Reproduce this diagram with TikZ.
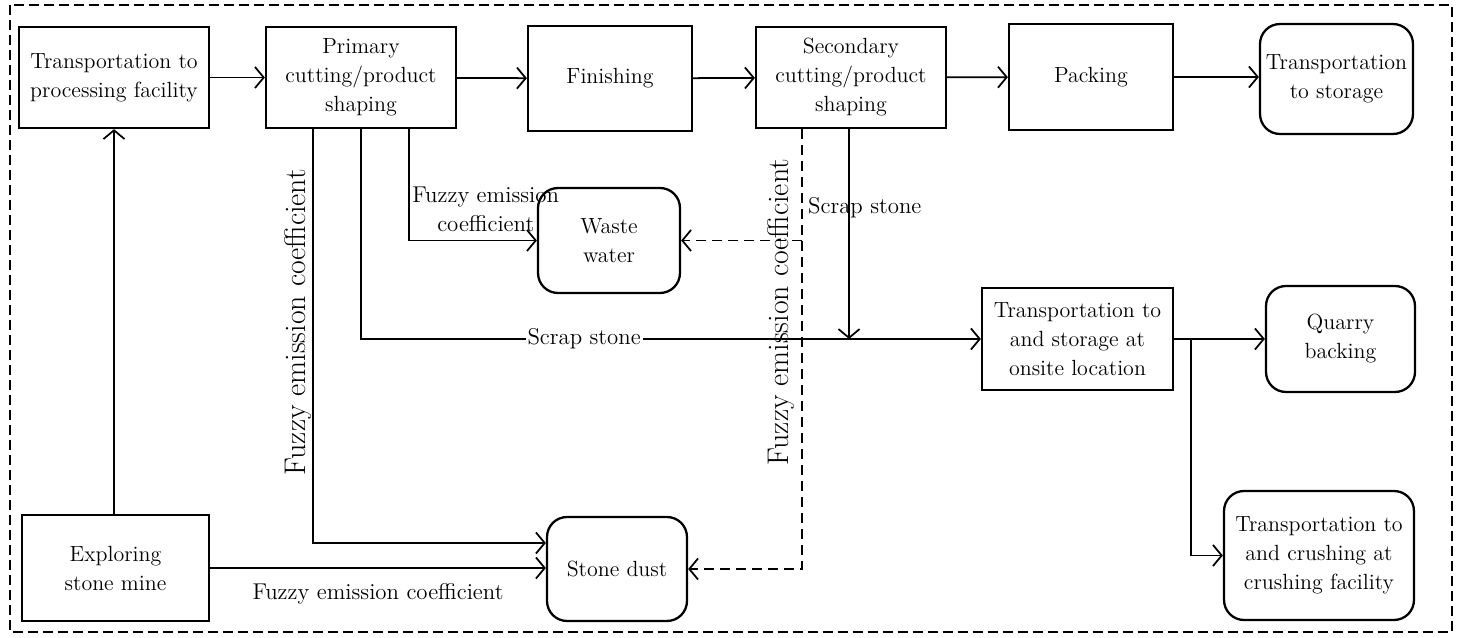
\documentclass[tikz,border=0pt]{standalone}
\usepackage{tikz}
\usetikzlibrary{arrows.meta,calc,positioning}
\begin{document}
\begin{tikzpicture}[x=0.02cm,y=-0.02cm,
  font=\fontsize{12.5}{16.5}\selectfont,
  procbox/.style={draw,line width=1.3pt,align=center,inner sep=2pt},
  outbox/.style={procbox,rounded corners=0.4cm},
  flow/.style={line width=1pt,-{Straight Barb[length=5pt,width=12pt,line width=1pt]}},
  dflow/.style={flow,dash pattern=on 0.2cm off 0.12cm},
  flowlabel/.style={font=\fontsize{13}{16.5}\selectfont},
  sidelabel/.style={rotate=90,font=\fontsize{17}{19}\selectfont}]
\useasboundingbox (0,0) rectangle (1461,638);
\draw[line width=1.6pt,dash pattern=on 0.2cm off 0.1cm] (10,5) rectangle (1452,632);
% top row
\node[procbox,minimum width=3.8cm,minimum height=2.02cm] (trproc) at (114,77.5) {Transportation to\\processing facility};
\node[procbox,minimum width=3.8cm,minimum height=2.02cm] (primary) at (361,77.5) {Primary\\cutting/product\\shaping};
\node[procbox,minimum width=3.28cm,minimum height=2.1cm] (finish) at (610,78.5) {Finishing};
\node[procbox,minimum width=3.8cm,minimum height=2.02cm] (second) at (851,77.5) {Secondary\\cutting/product\\shaping};
\node[procbox,minimum width=3.28cm,minimum height=2.12cm] (pack) at (1091,77) {Packing};
\node[outbox,minimum width=3.06cm,minimum height=2.2cm] (trstore) at (1336.5,79) {Transportation\\to storage};
% outputs
\node[outbox,minimum width=2.84cm,minimum height=2.1cm] (waste) at (609,240.5) {Waste\\water};
\node[outbox,minimum width=2.8cm,minimum height=2.08cm] (dust) at (617,569) {Stone dust};
\node[procbox,minimum width=3.74cm,minimum height=2.12cm] (explore) at (115.5,568) {Exploring\\stone mine};
\node[procbox,minimum width=3.82cm,minimum height=2.04cm] (onsite) at (1077.5,339) {Transportation to\\and storage at\\onsite location};
\node[outbox,minimum width=2.98cm,minimum height=2.12cm] (quarry) at (1340.5,339) {Quarry\\backing};
\node[outbox,minimum width=3.8cm,minimum height=2.58cm] (crush) at (1319,555.5) {Transportation to\\and crushing at\\crushing facility};

\coordinate (primL) at ($(primary.south)+(-48,0)$);
\coordinate (primR) at ($(primary.south)+(48,0)$);
\coordinate (secL) at ($(second.south)+(-49,0)$);
\coordinate (secR) at ($(second.south)+(-2,0)$);
\coordinate (split) at ($(onsite.east)+(17,0)$);

\draw[flow] (trproc) -- (primary);
\draw[flow] (primary) -- (finish);
\draw[flow] (finish) -- (second);
\draw[flow] (second) -- (pack);
\draw[flow] (pack.east) -- (pack.east -| trstore.west);
\draw[flow] (explore.north -| trproc.south) -- (trproc.south);

\draw[flow] (primL) |- ($(dust.west)+(0,-26)$);
\draw[flow] (explore.east) -- (explore.east -| dust.west)
  node[midway,below=5pt,flowlabel] (fuzzyB) {Fuzzy emission coefficient};
\draw[flow] (primary.south) |- (onsite.west)
  node[pos=0.68,fill=white,inner sep=1pt,flowlabel] (scrapA) {Scrap stone};
\draw[flow] (primR) |- (waste.west)
  node[pos=0.8,above=1pt,align=center,flowlabel] (fuzzyW) {Fuzzy emission\\coefficient};
\node[sidelabel] (fuzzyL) at (298,322) {Fuzzy emission coefficient};

\draw[dflow] (secL) |- (dust.east);
\draw[dflow] (secL |- waste.east) -- (waste.east);
\node[sidelabel] (fuzzyR) at (781,312) {Fuzzy emission coefficient};
\draw[flow] (secR) -- (secR |- onsite.west);
\node[anchor=west,flowlabel] (scrapB) at (802,208) {Scrap stone};

\draw[flow] (onsite) -- (quarry);
\draw[flow] (split) |- (crush.west);
\end{tikzpicture}
\end{document}
